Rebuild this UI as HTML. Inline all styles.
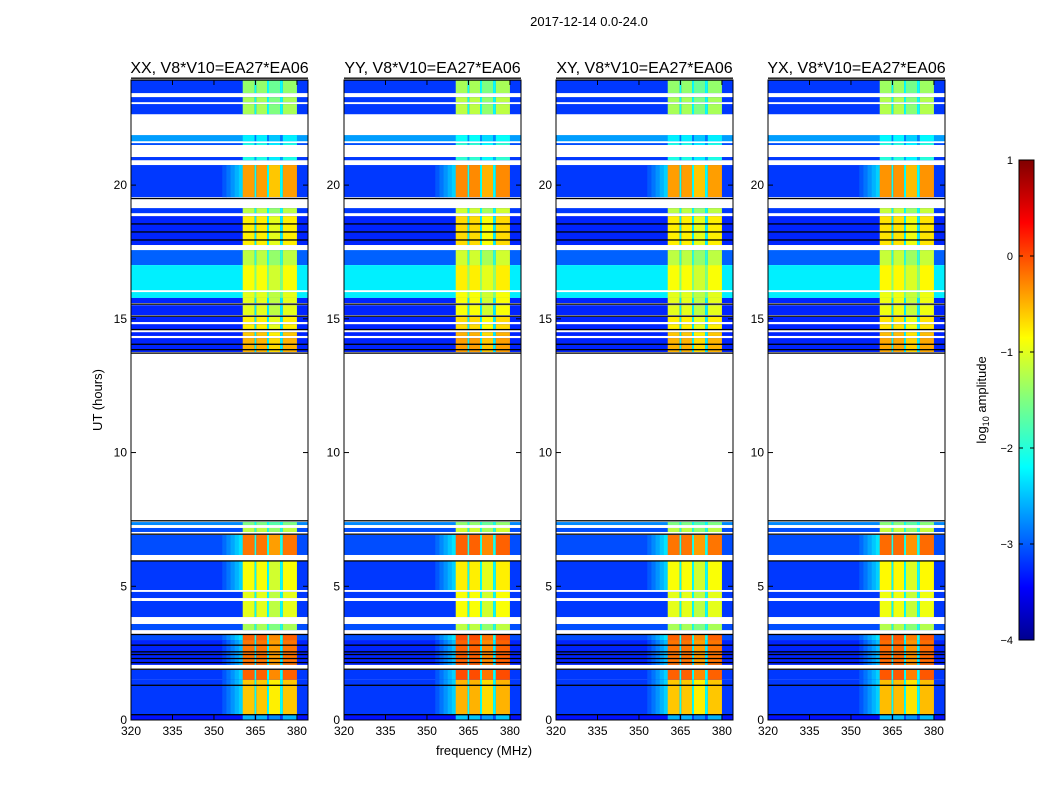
<!DOCTYPE html>
<html><head><meta charset="utf-8"><style>
body{margin:0;background:#fff;width:1050px;height:800px;overflow:hidden;font-family:"Liberation Sans",sans-serif}
svg text{font-family:"Liberation Sans",sans-serif}
</style></head><body>
<svg id="fig" width="1050" height="800">
<text x="589" y="26" font-size="13" text-anchor="middle">2017-12-14 0.0-24.0</text>
<text x="484" y="755" font-size="13" text-anchor="middle">frequency (MHz)</text>
<text transform="translate(102,400) rotate(-90)" font-size="13" text-anchor="middle">UT (hours)</text>
<defs><linearGradient id="cbg" x1="0" y1="1" x2="0" y2="0">
<stop offset="0" stop-color="#00008f"/><stop offset="0.11" stop-color="#0000ff"/><stop offset="0.36" stop-color="#00ffff"/><stop offset="0.5" stop-color="#80ff80"/><stop offset="0.63" stop-color="#ffff00"/><stop offset="0.87" stop-color="#ff0000"/><stop offset="1" stop-color="#800000"/></linearGradient></defs>
<g>
<rect x="1019" y="160" width="15" height="480" fill="url(#cbg)" stroke="#000" stroke-width="1"/>
<g id="cbticks"></g>
<text transform="translate(986,400) rotate(-90)" font-size="13" text-anchor="middle">log<tspan font-size="9" dy="3">10</tspan><tspan dy="-3"> amplitude</tspan></text>
</g>
</svg>
<script>
// data rows: [hourStart, hourEnd, backgroundLevel, bandLevel, rampToBand]
const rowStart=[23.44,23.10,22.65,21.64,21.50,20.93,19.55,18.95,17.76,17.01,16.07,15.78,15.59,15.14,14.88,14.58,14.36,13.76,7.29,7.03,6.17,4.86,4.56,3.85,3.36,2.99,2.06,1.50,0.19,0];
const rowEnd  =[23.93,23.29,23.03,21.87,21.57,21.05,20.75,19.14,18.84,17.57,17.01,16.00,15.78,15.51,15.07,14.80,14.50,14.28,7.40,7.18,6.92,5.94,4.79,4.45,3.59,3.18,2.99,1.87,1.50,0.19];
const rowBg   =[-3.1,-3.1,-3.1,-2.6,-3.0,-3.1,-3.1,-3.1,-3.2,-2.9,-2.2,-2.2,-3.2,-3.2,-3.2,-3.2,-3.2,-3.2,-2.7,-3.0,-3.0,-3.1,-3.1,-3.1,-3.0,-3.0,-3.2,-3.1,-3.1,-3.3];
const rowBand =[-1.4,-1.3,-1.3,-2.2,-2.0,-2.0,-0.4,-1.2,-0.8,-1.2,-0.9,-1.0,-1.0,-1.0,-0.8,-0.8,-0.6,-0.5,-1.5,-1.2,-0.2,-0.9,-1.0,-1.0,-1.3,-0.1,-0.2,-0.1,-0.6,-2.5];
const rowRamp =[0,0,0,0,0,0,1,0,0,0,0,0,0,0,0,0,0,0,0,0,1,1,0,0,0,1,1,1,1,0];
const blackLines=[24.0,23.93,19.5,18.55,18.25,17.95,15.55,15.1,14.6,14.05,13.85,13.72,7.45,6.95,5.95,3.2,2.8,2.55,2.45,2.3,2.15,1.9,1.3,0.2];
const bandStart=[360.4,365.3,369.9,374.9];
const bandEnd  =[364.7,369.2,373.9,380.0];
const panelNames=["XX","YY","XY","YX"];
const panelOffset=[0,0.1,0,0.05];
const xTicks=[320,335,350,365,380];
const yTicks=[0,5,10,15,20];
const cbTicks=[1,0,-1,-2,-3,-4];

const NS="http://www.w3.org/2000/svg";
const svg=document.getElementById('fig');
const panelLeft=[131,344,556,768], PW=177, PT=80, PB=720;
function jet(v){let t=Math.max(0,Math.min(1,(v+4)/5));
 const r=Math.max(0,Math.min(1,1.5-Math.abs(4*t-3))),g=Math.max(0,Math.min(1,1.5-Math.abs(4*t-2))),b=Math.max(0,Math.min(1,1.5-Math.abs(4*t-1)));
 return `rgb(${Math.round(r*255)},${Math.round(g*255)},${Math.round(b*255)})`;}
function el(tag,attrs,parent){const e=document.createElementNS(NS,tag);for(const k in attrs)e.setAttribute(k,attrs[k]);(parent||svg).appendChild(e);return e;}
const yOf=h=>PB-h*(PB-PT)/23.93;
panelNames.forEach((nm,p)=>{
 const L=panelLeft[p]; const xOf=f=>L+(f-320)*PW/64;
 const g=el('g',{});
 
 
 for(let i=0;i<rowStart.length;i++){
  const y0=yOf(rowEnd[i]),y1=yOf(rowStart[i]),hh=Math.max(1,y1-y0);
  const bg=rowBg[i],bd=rowBand[i]+panelOffset[p];
  const r=el('rect',{x:L,y:y0,width:PW,height:hh,fill:jet(bg)},g);
  
  
  if(rowRamp[i]){for(let k=0;k<5;k++){const f0=353+k*1.5;el('rect',{x:xOf(f0),y:y0,width:PW*1.5/64+0.5,height:hh,fill:jet(bg+(k+1)*0.15)},g);}}
  for(let b=0;b<bandStart.length;b++){
   const br=el('rect',{x:xOf(bandStart[b]),y:y0,width:xOf(bandEnd[b])-xOf(bandStart[b]),height:hh,fill:jet(bd-(b===2?0.2:0))},g);
   
   
   if(b<3){el('rect',{x:xOf(bandEnd[b]),y:y0,width:xOf(bandStart[b+1])-xOf(bandEnd[b]),height:hh,fill:jet(Math.min(bd-0.6,bg+1.0))},g);}
  }
 }
 blackLines.forEach(h=>{const l=el('rect',{x:L,y:yOf(h)-0.6,width:PW,height:1.3,fill:'#000'},g);
  
  });
 el('rect',{x:L,y:PT,width:PW,height:PB-PT,fill:'none',stroke:'#000','stroke-width':1},g);
 const t=el('text',{x:L+PW/2,y:73,'font-size':16,'text-anchor':'middle'},g);t.textContent=nm+', V8*V10=EA27*EA06';
 
 
 xTicks.forEach(v=>{const x=xOf(v);
  el('line',{x1:x,y1:PB,x2:x,y2:PB-5,stroke:'#000'},g);el('line',{x1:x,y1:PT,x2:x,y2:PT+5,stroke:'#000'},g);
  const tx=el('text',{x:x,y:PB+15,'font-size':12,'text-anchor':'middle'},g);tx.textContent=v;
  
  });
 yTicks.forEach(v=>{const y=yOf(v);
  el('line',{x1:L,y1:y,x2:L+5,y2:y,stroke:'#000'},g);el('line',{x1:L+PW,y1:y,x2:L+PW-5,y2:y,stroke:'#000'},g);
  const ty=el('text',{x:L-4,y:y+4,'font-size':12,'text-anchor':'end'},g);ty.textContent=v;
  
  });
});
const cbg=document.getElementById('cbticks');
cbTicks.forEach(v=>{const y=160+(1-v)*96;
 el('line',{x1:1019,y1:y,x2:1023,y2:y,stroke:'#000'},cbg);el('line',{x1:1034,y1:y,x2:1030,y2:y,stroke:'#000'},cbg);
 const t=el('text',{x:1013,y:y+4,'font-size':11,'text-anchor':'end'},cbg);t.textContent=v<0?'\u2212'+(-v):v;
 
 });
</script>
</body></html>
